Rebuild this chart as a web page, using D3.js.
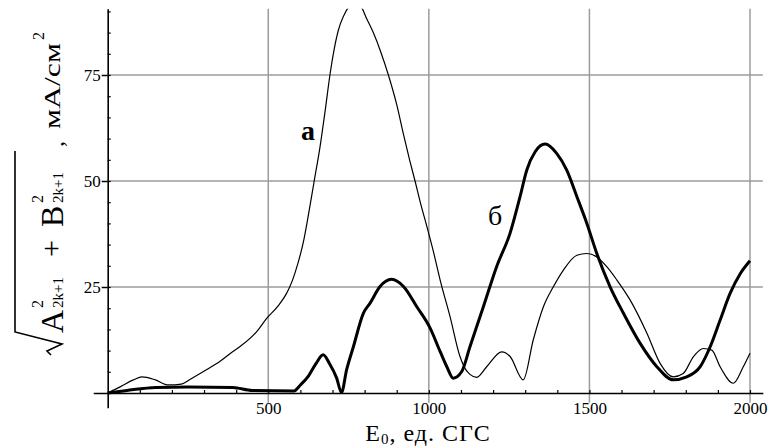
<!DOCTYPE html>
<html>
<head>
<meta charset="utf-8">
<script src="https://cdn.jsdelivr.net/npm/d3@7"></script>
<style>
  body { margin: 0; background: #fff; }
  svg { display: block; }
  text { font-family: "Liberation Serif", "DejaVu Serif", serif; fill: #000; }
</style>
</head>
<body>
<div id="chart"></div>
<script>
// curve "а" (thin)
var aX = [0, 40, 80, 107, 148, 189, 229, 256, 297, 319, 350, 390, 418, 464, 495, 530, 557, 575, 592, 609, 625, 643, 661, 677, 692, 705, 718, 735, 750, 770, 790, 805, 827, 850, 874, 900, 921, 940, 957, 975, 993, 1014, 1035, 1066, 1097, 1115, 1128, 1149, 1180, 1227, 1253, 1294, 1325, 1357, 1388, 1419, 1461, 1492, 1523, 1554, 1585, 1627, 1679, 1720, 1761, 1792, 1824, 1855, 1881, 1907, 1948, 1979, 2000];
var aY = [0, 1.5, 3.1, 3.8, 3.1, 1.9, 2.1, 3.2, 5.0, 6.0, 7.5, 9.8, 11.3, 14.5, 17.6, 20.5, 23.5, 26.5, 30.5, 35.5, 42, 50, 58, 66.5, 75, 81, 85.5, 89, 91, 92, 91, 88.5, 85, 80.5, 75, 68, 61, 55, 50, 44.5, 39.5, 33.4, 26.7, 18.0, 8.6, 5.5, 4.4, 3.7, 6.2, 9.7, 8.6, 3.1, 12.5, 20.4, 25.1, 29.0, 32.5, 32.9, 32.1, 29.8, 26.7, 21.9, 14.1, 7.0, 3.8, 4.6, 8.6, 10.5, 10.1, 6.2, 2.3, 6.2, 9.4];
// curve "б" (thick)
var bX = [0, 60, 150, 250, 390, 450, 580, 600, 625, 649, 671, 690, 713, 728, 744, 765, 796, 817, 848, 884, 921, 962, 1004, 1035, 1056, 1076, 1102, 1128, 1170, 1211, 1253, 1284, 1305, 1331, 1362, 1398, 1429, 1461, 1492, 1523, 1564, 1606, 1658, 1710, 1761, 1803, 1845, 1876, 1907, 1938, 1970, 2000];
var bY = [0, 0.6, 1.3, 1.4, 1.3, 0.6, 0.5, 1.9, 4.0, 7.0, 9.0, 7.0, 3.5, 0.1, 5.5, 10.9, 18.8, 21.2, 25.1, 26.8, 25.1, 20.4, 15.3, 9.8, 6.2, 3.5, 5.0, 10.9, 20.4, 29.8, 37.7, 46.3, 52.6, 56.9, 58.7, 56.5, 52.6, 46.3, 40.0, 32.9, 25.1, 18.8, 11.7, 6.2, 3.1, 3.8, 6.2, 10.9, 17.2, 23.5, 28.2, 31.2];

var xTicks = [500, 1000, 1500, 2000];
var yTicks = [25, 50, 75];
var xMinor = d3.range(100, 2001, 100);
var yMinor = d3.range(5, 91, 5);

var W = 771, H = 448;
var xMin = -45, xMax = 2040, yMin = -3.5, yMax = 90.6;

var x = d3.scaleLinear().domain([0, 2000]).range([107.7, 750]);
var y = d3.scaleLinear().domain([0, 75]).range([393, 75]);
var xAx = x.copy().domain([xMin, xMax]).range([x(xMin), x(xMax)]);
var yAx = y.copy().domain([yMin, yMax]).range([y(yMin), y(yMax)]);

var svg = d3.select('#chart').append('svg').attr('width', W).attr('height', H);

svg.append('defs').append('clipPath').attr('id', 'plotClip')
  .append('rect')
  .attr('x', x(xMin)).attr('y', y(yMax))
  .attr('width', x(xMax) - x(xMin)).attr('height', y(yMin) - y(yMax));

// grid
var grid = svg.append('g').attr('stroke', '#9c9c9c').attr('stroke-width', 1.5);
grid.selectAll('.vg').data(xTicks).enter().append('line')
  .attr('x1', function (d) { return x(d); }).attr('x2', function (d) { return x(d); })
  .attr('y1', y(yMax)).attr('y2', y(-2.3));
grid.selectAll('.hg').data(yTicks).enter().append('line')
  .attr('x1', x(0)).attr('x2', x(xMax))
  .attr('y1', function (d) { return y(d); }).attr('y2', function (d) { return y(d); });

// curves
var line = d3.line()
  .x(function (d) { return x(d[0]); })
  .y(function (d) { return y(d[1]); })
  .curve(d3.curveMonotoneX);

var curves = svg.append('g').attr('clip-path', 'url(#plotClip)').attr('fill', 'none').attr('stroke', '#000');
curves.append('path').datum(aX.map(function (v, i) { return [v, aY[i]]; }))
  .attr('d', line).attr('stroke-width', 1.2);
curves.append('path').datum(bX.map(function (v, i) { return [v, bY[i]]; }))
  .attr('d', line).attr('stroke-width', 3).attr('stroke-linejoin', 'round');

// x axis
var gx = svg.append('g').attr('transform', 'translate(0,' + y(0) + ')')
  .call(d3.axisBottom(xAx).tickValues(xTicks).tickSize(0).tickSizeOuter(0).tickPadding(9).tickFormat(d3.format('d')));
gx.select('.domain').attr('stroke', '#000').attr('stroke-width', 1.6);
gx.selectAll('text').attr('font-size', 17).attr('font-family', '"Liberation Serif", serif').attr('fill', '#000');
var gxm = svg.append('g').attr('transform', 'translate(0,' + y(0) + ')')
  .call(d3.axisTop(xAx).tickValues(xMinor).tickSize(3).tickFormat(''));
gxm.select('.domain').remove();
gxm.selectAll('line').attr('stroke', '#000').attr('stroke-width', 1.2);

// y axis
var gy = svg.append('g').attr('transform', 'translate(' + x(0) + ',0)')
  .call(d3.axisLeft(yAx).tickValues(yTicks).tickSize(6).tickSizeOuter(0).tickPadding(1));
gy.select('.domain').attr('stroke', '#000').attr('stroke-width', 1.6);
gy.selectAll('line').attr('stroke', '#000').attr('stroke-width', 1.5);
gy.selectAll('text').attr('font-size', 17).attr('font-family', '"Liberation Serif", serif').attr('fill', '#000');
var gym = svg.append('g').attr('transform', 'translate(' + x(0) + ',0)')
  .call(d3.axisRight(yAx).tickValues(yMinor).tickSize(3).tickFormat(''));
gym.select('.domain').remove();
gym.selectAll('line').attr('stroke', '#000').attr('stroke-width', 1.2);

// curve labels
svg.append('text').attr('x', 301).attr('y', 140).attr('font-size', 28).attr('font-weight', 'bold').text('а');
svg.append('text').attr('x', 488).attr('y', 225).attr('font-size', 28).text('б');

// x label
var xl = svg.append('text').attr('x', 428).attr('y', 441).attr('text-anchor', 'middle').attr('font-size', 24)
  .attr('letter-spacing', 1);
xl.append('tspan').text('E');
xl.append('tspan').attr('font-size', 15).attr('dy', 3).text('0');
xl.append('tspan').attr('dy', -3).text(', ед. СГС');

// y label (rotated)
var yl = svg.append('g').attr('transform', 'translate(63,355) rotate(-90)');
yl.append('path').attr('d', 'M0,-12 L4,-16 L11,-1 L23,-48 L204,-48')
  .attr('fill', 'none').attr('stroke', '#000').attr('stroke-width', 1.6);
yl.append('text').attr('x', 22).attr('y', 0).attr('font-size', 32).text('A');
yl.append('text').attr('x', 47).attr('y', -20).attr('font-size', 16).text('2');
yl.append('text').attr('x', 47).attr('y', 0).attr('font-size', 15).text('2k+1');
yl.append('text').attr('x', 98).attr('y', -2).attr('font-size', 30).text('+');
yl.append('text').attr('x', 128).attr('y', 0).attr('font-size', 32).text('B');
yl.append('text').attr('x', 152).attr('y', -20).attr('font-size', 16).text('2');
yl.append('text').attr('x', 152).attr('y', 0).attr('font-size', 15).text('2k+1');
yl.append('text').attr('x', 208).attr('y', 0).attr('font-size', 24).text(',');
yl.append('text').attr('x', 226).attr('y', -3).attr('font-size', 23)
  .attr('textLength', 86).attr('lengthAdjust', 'spacingAndGlyphs').text('мА/см');
yl.append('text').attr('x', 315).attr('y', -19).attr('font-size', 16).text('2');
</script>
</body>
</html>
